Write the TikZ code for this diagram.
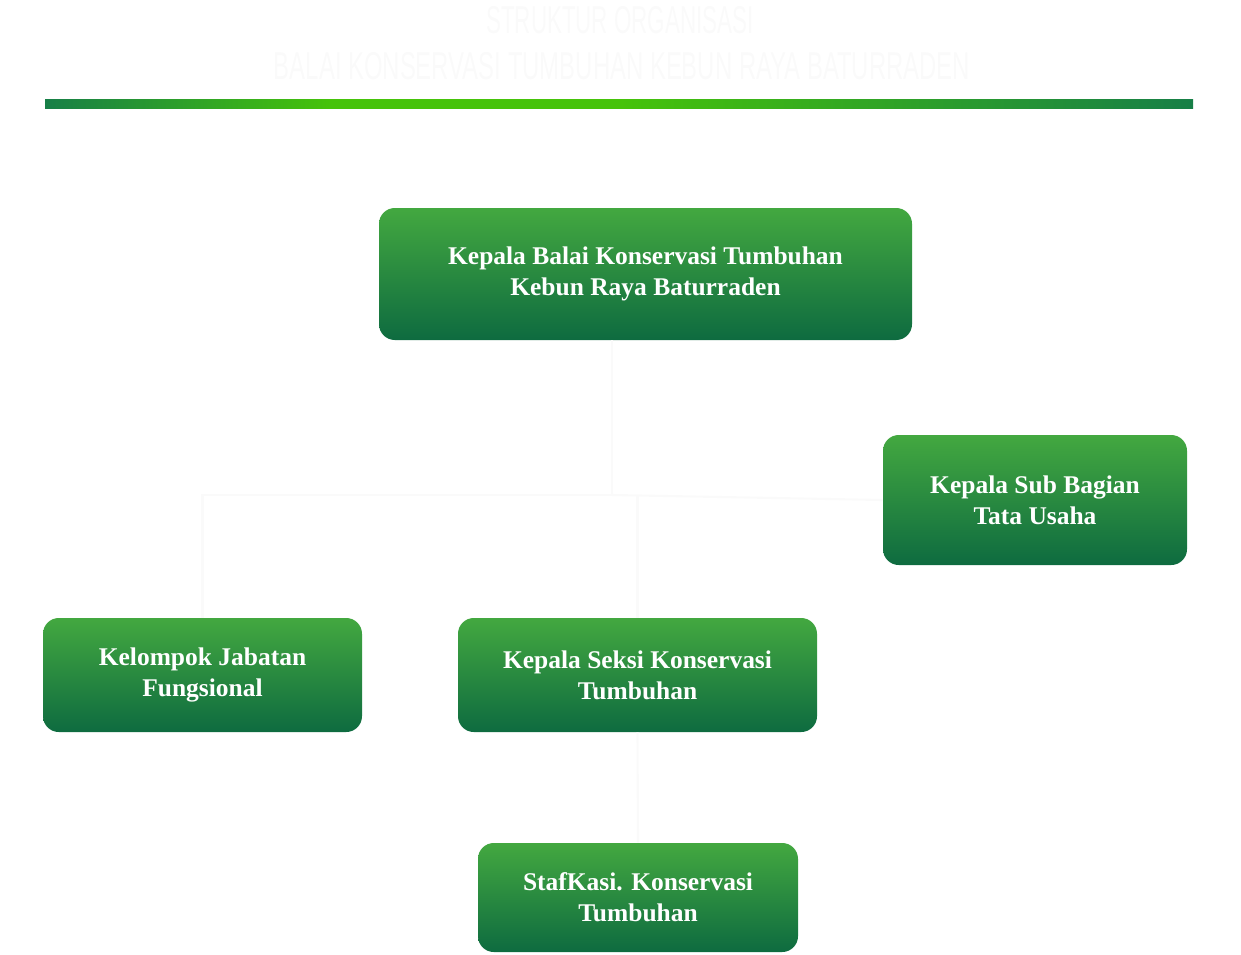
\documentclass[tikz,border=0pt]{standalone}
\usepackage{fontspec}
\setmainfont{Liberation Serif}
\newfontfamily\titlefont{Liberation Sans}
\definecolor{gtop}{HTML}{43A840}
\definecolor{gbot}{HTML}{0E6B40}
\definecolor{barend}{HTML}{177F47}
\definecolor{barmid}{HTML}{46C30A}
\definecolor{faint}{HTML}{FAFAFA}
\begin{document}
\begin{tikzpicture}[x=0.02cm,y=-0.02cm,
  box/.style={rounded corners=9pt,top color=gtop,bottom color=gbot,text=white,
    font=\bfseries\fontsize{14.5}{17.5}\selectfont,align=center,inner sep=0pt},
  conn/.style={draw=faint,line width=1.2pt}]
\useasboundingbox (0,0) rectangle (1241,954);
\node[text=faint,font=\titlefont\fontsize{17}{20}\selectfont] (t1) at (620,20) {\scalebox{0.75}[1.3]{STRUKTUR ORGANISASI}};
\node[text=faint,font=\titlefont\fontsize{17}{20}\selectfont] (t2) at (622,66) {\scalebox{0.8}[1.3]{BALAI KONSERVASI TUMBUHAN KEBUN RAYA BATURRADEN}};
\shade[left color=barend,right color=barmid,middle color=barmid] (45,99) rectangle (619,108);
\shade[left color=barmid,right color=barend] (619,99) rectangle (1193,108);
\node[box,minimum width=533*0.02cm,minimum height=132*0.02cm] (top) at (645.5,274) {Kepala Balai Konservasi Tumbuhan\\Kebun Raya Baturraden};
\node[box,minimum width=304*0.02cm,minimum height=130*0.02cm] (tu) at (1035,500) {Kepala Sub Bagian\\Tata Usaha};
\node[box,minimum width=319*0.02cm,minimum height=114*0.02cm] (kj) at (202.5,675) {Kelompok Jabatan\\Fungsional};
\node[box,minimum width=359*0.02cm,minimum height=114*0.02cm] (ks) at (637.5,675) {Kepala Seksi Konservasi\\Tumbuhan};
\node[box,minimum width=320*0.02cm,minimum height=109*0.02cm] (st) at (638,897.5) {StafKasi. Konservasi\\Tumbuhan};
\coordinate (j1) at (612,495);
\draw[conn] (top.south -| j1) -- (j1);
\draw[conn] (j1) -| (kj.north);
\draw[conn] (j1) -- (tu.west);
\draw[conn] (ks.north) -- (ks.north |- j1);
\draw[conn] (ks.south) -- (st.north);
\end{tikzpicture}
\end{document}
